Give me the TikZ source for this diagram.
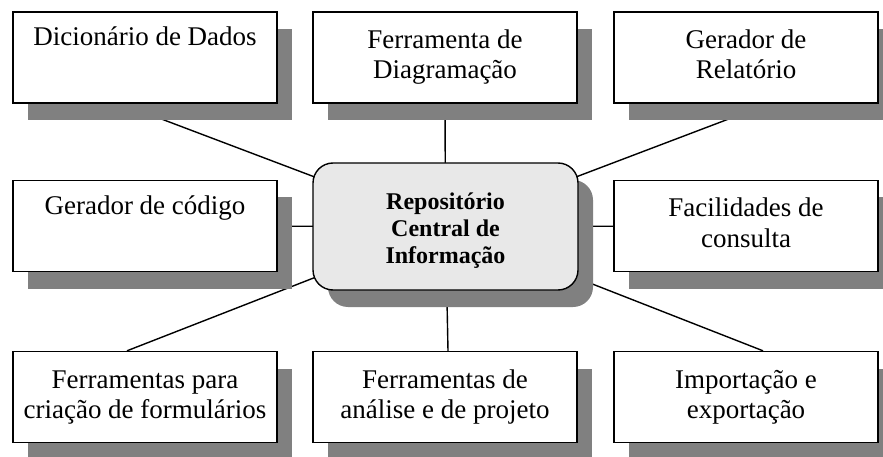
\documentclass[tikz,border=0pt]{standalone}
\usepackage{fontspec}
\setmainfont{Liberation Serif}
\usepackage{tikz}
\usetikzlibrary{shadows,backgrounds}

\definecolor{sombra}{RGB}{128,128,128}
\definecolor{fundo}{RGB}{232,232,232}

\begin{document}
\begin{tikzpicture}
            [
                x=1pt, y=-1pt,
                caixa/.style={draw, line width=1.4pt, fill=white,
                    minimum width=264pt, minimum height=91pt, inner sep=0pt,
                    align=center, font=\fontsize{27}{30}\selectfont,
                    text height=21pt, text depth=44pt,
                    drop shadow={shadow xshift=15pt, shadow yshift=-17pt,
                        fill=sombra, opacity=1}},
                duaslinhas/.style={text height=51pt, text depth=9pt},
                central/.style={caixa, rounded corners=20pt, fill=fundo,
                    minimum width=265pt, minimum height=127pt,
                    font=\bfseries\fontsize{24}{27}\selectfont,
                    text height=80pt, text depth=7pt},
                ligacao/.style={line width=1.4pt}
            ]
            \useasboundingbox (0,0) rectangle (883,457);

            \node[central] (repositorio) at (445.5,226.5) {Repositório\\Central de\\Informação};

            \node[caixa] (dicionario) at (145,57.5) {Dicionário de Dados};
            \node[caixa, duaslinhas] (diagramacao) at (445,57.5) {Ferramenta de\\Diagramação};
            \node[caixa, duaslinhas] (relatorio) at (746,57.5) {Gerador de\\Relatório};

            \node[caixa] (codigo) at (145,226) {Gerador de código};
            \node[caixa, duaslinhas] (consulta) at (746,226) {Facilidades de\\consulta};

            \node[caixa, duaslinhas] (formularios) at (145,397) {Ferramentas para\\criação de formulários};
            \node[caixa, duaslinhas] (analise) at (445,397) {Ferramentas de\\análise e de projeto};
            \node[caixa, duaslinhas] (importacao) at (746,397) {Importação e\\exportação};

            \begin{scope}[on background layer]
                \draw[ligacao] (repositorio.center) -- ([xshift=-24pt]dicionario.south);
                \draw[ligacao] (repositorio.center) -- (diagramacao.south);
                \draw[ligacao] (repositorio.center) -- ([xshift=23pt]relatorio.south);
                \draw[ligacao] (repositorio.center) -- (codigo.center);
                \draw[ligacao] (repositorio.center) -- (consulta.center);
                \draw[ligacao] (repositorio.center) -- ([xshift=-18pt]formularios.north);
                \draw[ligacao] (repositorio.center) -- ([xshift=3pt]analise.north);
                \draw[ligacao] (repositorio.center) -- ([xshift=17pt]importacao.north);
            \end{scope}
        \end{tikzpicture}
\end{document}
